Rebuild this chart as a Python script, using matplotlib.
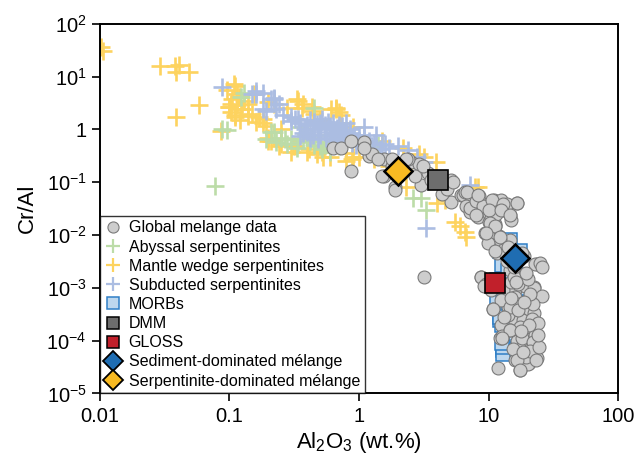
import numpy as np
import matplotlib
matplotlib.use("Agg")
import matplotlib.pyplot as plt
from matplotlib.lines import Line2D
from matplotlib.ticker import FixedLocator, FixedFormatter, NullLocator
from matplotlib import rcParams

rcParams['font.family'] = 'sans-serif'
rcParams['font.sans-serif'] = ['Liberation Sans', 'DejaVu Sans']
rcParams['mathtext.fontset'] = 'custom'
rcParams['mathtext.rm'] = 'Liberation Sans'
rcParams['mathtext.it'] = 'Liberation Sans:italic'

# ── data (Al2O3 wt.%, Cr/Al) ──
abyssal_x = [0.078, 0.088, 0.095, 0.123, 0.13, 0.19, 0.21, 0.23, 0.27, 0.3, 0.34, 0.43,
             0.5, 0.66, 0.4, 0.55, 0.6, 0.75, 0.9, 1.2, 1.4, 0.33, 0.45, 2.6, 3.0, 3.3,
             0.8, 1.0, 0.35, 0.22, 0.25, 0.37, 0.42, 0.5, 0.6, 0.45, 0.28, 0.7, 0.52, 0.62]
abyssal_y = [0.083, 1.0, 0.96, 4.2, 5.0, 0.65, 0.88, 0.57, 0.65, 0.65, 0.57, 0.7,
             0.57, 0.65, 0.75, 0.5, 0.8, 0.55, 0.7, 0.45, 0.5, 0.45, 0.5, 0.05, 0.05, 0.03,
             0.9, 0.6, 1.1, 0.88, 0.7, 0.65, 0.6, 0.48, 0.38, 2.6, 0.52, 0.48, 0.42, 0.55]

wedge_x = [0.0102, 0.0105, 0.029, 0.038, 0.041, 0.039, 0.049, 0.058, 0.039, 0.086, 0.095,
           0.103, 0.103, 0.11, 0.105, 0.123, 0.11, 0.118, 0.12, 0.17, 0.18, 0.34, 0.2, 0.24,
           0.3, 0.43, 0.66, 0.73, 0.12, 0.1, 0.126, 0.18, 0.37, 0.61, 0.7, 0.2, 0.32, 0.41,
           0.52, 0.88, 2.9, 3.2, 3.9, 2.3, 4.0, 5.5, 6.0, 6.6, 6.7, 7.9, 8.3, 4.6, 0.6, 0.8,
           1.0, 1.3, 0.25, 0.15, 0.14, 0.5, 0.9, 1.5, 2.2, 1.7, 2.5, 0.45, 0.28,
           0.108, 0.115, 0.1, 0.11, 0.16, 0.19, 0.22, 0.33, 0.36, 0.44, 0.66, 0.72, 0.21,
           0.25, 0.31, 0.4, 0.47, 0.53, 0.9, 0.8, 0.2, 0.155, 0.13, 0.14, 0.115]
wedge_y = [37, 31, 15.7, 15.7, 16.5, 12, 12, 2.85, 1.7, 0.92, 5.7,
           3.0, 2.1, 6.5, 3.7, 2.4, 1.9, 4.2, 1.5, 1.7, 1.35, 3.4, 0.6, 0.48,
           0.37, 2.7, 2.4, 1.35, 4.2, 2.7, 2.4, 1.55, 3.0, 2.4, 2.1, 0.7, 0.48, 0.42,
           0.37, 0.27, 0.34, 0.3, 0.24, 0.08, 0.04, 0.018, 0.0145, 0.0116, 0.0093, 0.08, 0.08,
           0.047, 0.3, 0.35, 0.3, 0.28, 1.0, 2.0, 3.0, 1.5, 1.1, 0.6, 0.45, 0.2, 0.2, 2.0, 2.5,
           7.1, 4.6, 2.7, 1.7, 1.4, 1.14, 3.0, 3.7, 2.6, 2.2, 2.6, 1.9, 0.6,
           0.52, 0.48, 0.37, 0.34, 0.3, 0.3, 0.25, 3.3, 4.6, 3.4, 1.8, 2.9]

subducted_x = [0.088, 0.15, 0.18, 0.16, 0.21, 0.22, 0.23, 0.18, 0.24, 0.3, 0.32, 0.35, 0.4,
               0.45, 0.5, 0.55, 0.6, 0.65, 0.7, 0.75, 0.8, 0.9, 1.0, 1.1, 1.2, 1.3, 1.5, 1.6,
               2.0, 3.2, 0.4, 0.45, 0.55, 0.6, 0.7, 0.85, 0.5, 0.38, 1.1, 1.35, 0.65, 2.4,
               2.8, 3.3, 7.2, 0.8, 0.95, 0.42, 0.16, 0.22, 0.19, 0.26, 0.3, 0.34, 0.37, 0.42,
               0.47, 0.52, 0.58, 0.63, 0.68, 0.74, 0.78, 0.85, 0.92, 0.35, 0.44, 0.48, 0.56,
               0.62, 0.72, 0.8, 0.88, 1.0, 0.5, 0.6, 0.7, 1.25, 1.45, 1.7]
subducted_y = [6.3, 4.6, 5.0, 4.6, 3.7, 4.0, 2.4, 2.4, 3.0, 1.7, 1.55, 1.3, 1.2,
               1.0, 1.1, 0.9, 1.0, 0.85, 0.9, 0.8, 0.75, 0.7, 0.8, 0.7, 0.6, 0.55, 0.5, 0.52,
               0.48, 0.24, 0.9, 1.4, 1.2, 0.7, 1.2, 1.0, 0.8, 1.0, 1.1, 0.8, 0.6, 0.4,
               0.3, 0.0138, 0.09, 1.3, 0.5, 0.7, 5.3, 3.7, 2.2, 1.9, 1.45, 1.6, 0.85, 1.5,
               1.25, 1.6, 1.4, 1.3, 1.05, 1.15, 0.95, 0.85, 0.8, 0.75, 0.8, 0.65, 0.7,
               0.8, 0.65, 0.6, 0.55, 0.6, 1.3, 1.15, 0.75, 0.45, 0.42, 0.45]

morb_x = [11.7, 17.5, 17, 12.2, 12.8, 14, 13, 13, 12.6, 16, 11.7, 17.5, 13, 12.3, 13,
          14.7, 17.5, 12.3, 15.5, 12.5, 16, 14, 12.8, 13.5]
morb_y = [0.00054, 0.00054, 0.00045, 0.00025, 0.0002, 0.00013, 0.000066, 0.000055, 0.0027,
          0.0027, 0.0014, 0.001, 0.0006, 0.00028, 0.000077, 0.008, 0.005, 0.005, 0.0015,
          0.001, 0.0003, 0.0021, 0.00009, 0.00017]

melange_x = [0.63, 0.72, 0.87, 0.86, 1.1, 1.2, 1.25, 1.55, 1.55, 1.9, 2.5, 2.9, 3.0, 2.7,
             1.8, 2.2, 3.4, 3.6, 5.1, 5.1, 6.1, 6.3, 7.3, 8.5, 11, 12.5, 16.5, 6.7, 7.2, 8.3,
             10, 11.3, 10, 11, 12.9, 14.5, 9.3, 12, 13.4, 14.7, 11.7, 18.6, 23.5, 3.2, 8.7,
             14.7, 16.5, 19, 22, 15.9, 13, 15.9, 10.8, 14.6, 16.5, 21, 22.5, 13.7, 12.6, 19,
             21, 22.5, 21, 23.5, 15.9, 17.5, 20.6, 16.5, 18.5, 7.2, 10.4, 11.2, 9.9, 12.3,
             9.9, 13, 19.2, 14.8, 22.5, 8.8, 19, 14, 12.5, 16, 18.5, 14.6, 19, 21.5, 12.3,
             20.6, 20.2, 14, 12.8, 17, 20, 18, 15, 13.5, 9.5, 10.5, 12.5, 20.5, 17.5, 15.5,
             19.5, 4.4, 4.8, 8, 9, 13.8, 15, 11.5, 1.9, 1.5, 2.4, 6.6,
             1.4, 1.8, 2.3, 1.1, 3.1, 5.3, 6.8, 8.3, 10.7, 13, 16.5, 8, 10, 12.5, 14.6, 10.3,
             11.2, 9.6, 12.3, 11.2, 14, 23, 19, 15.7, 22.4, 10.8, 14.6, 17, 22.4, 21.5, 14.6,
             12.6, 18, 23, 22, 21, 23.4, 16.5, 17.6, 18.5, 24, 25, 26, 17, 20, 22, 24.5,
             11.8, 13.8, 15.8, 19.5, 21, 16.2, 18.8, 24, 20.5, 17.8, 26, 9.2, 15, 13.2]
melange_y = [0.44, 0.45, 0.6, 0.16, 0.57, 0.31, 0.34, 0.27, 0.13, 0.08, 0.24, 0.22, 0.09, 0.13,
             0.2, 0.17, 0.15, 0.11, 0.11, 0.043, 0.058, 0.058, 0.054, 0.054, 0.047, 0.047, 0.041,
             0.035, 0.027, 0.022, 0.025, 0.016, 0.018, 0.014, 0.03, 0.024, 0.011, 0.0094, 0.0072,
             0.008, 0.0046, 0.004, 0.0028, 0.0016, 0.0016, 0.0022, 0.0018, 0.0018, 0.00095,
             0.00092, 0.00092, 0.00068, 0.0004, 0.00041, 0.00034, 0.00034, 0.00025, 0.00016,
             0.00011, 0.00012, 0.00014, 0.0000935, 0.00006, 0.000047, 0.000043, 0.000028,
             0.000037, 0.0001, 0.00008, 0.033, 0.021, 0.0145, 0.01, 0.008, 0.0072, 0.0053,
             0.0016, 0.0013, 0.00104, 0.0016, 0.0011, 0.00044, 0.0002, 0.00023, 0.00025, 0.00016,
             0.00016, 0.00017, 0.00011, 0.000066, 0.000036, 0.00031, 0.00012, 0.0005, 0.0006,
             0.0045, 0.0035, 0.0045, 0.0012, 0.0009, 0.0006, 0.0004, 0.00018, 0.00007, 0.00005,
             0.06, 0.075, 0.045, 0.035, 0.038, 0.019, 0.025, 0.07, 0.13, 0.27, 0.064,
             0.27, 0.27, 0.27, 0.45, 0.2, 0.1, 0.064, 0.058, 0.047, 0.038, 0.041, 0.024, 0.03,
             0.03, 0.024, 0.017, 0.0145, 0.011, 0.009, 0.0049, 0.006, 0.0028, 0.0018, 0.0016,
             0.001, 0.0004, 0.00044, 0.00038, 0.00034, 0.00026, 0.00016, 0.00011, 0.00011,
             0.00013, 0.000094, 0.000063, 0.000043, 0.000043, 0.000028, 0.00006, 0.00022,
             0.0029, 0.0007, 0.0012, 0.0015, 0.0005, 0.000075, 0.00003, 0.0032, 0.0025,
             0.0019, 0.00075, 0.0013, 0.00055, 0.00013, 0.0002, 0.00015, 0.0025, 0.0011,
             0.00065, 0.00028]

dmm = (4.1, 0.108)
gloss = (11.2, 0.00125)
sed_melange = (15.9, 0.0036)
serp_melange = (2.0, 0.166)

c_green, c_yellow, c_blue = '#bcdca8', '#fdd35f', '#abbde2'

fig = plt.figure(figsize=(6.36, 4.58), dpi=100)
ax = fig.add_axes([0.157, 0.141, 0.815, 0.807])

plus_kw = dict(ls='none', marker='+', ms=12.5, mew=1.9)
ax.plot(wedge_x, wedge_y, color=c_yellow, **plus_kw)
ax.plot(abyssal_x, abyssal_y, color=c_green, **plus_kw)
ax.plot(subducted_x, subducted_y, color=c_blue, **plus_kw)
ax.plot(morb_x, morb_y, ls='none', marker='s', ms=10, mfc='#bdd7ee', mec='#2f7fc6', mew=1.1)
ax.plot(melange_x, melange_y, ls='none', marker='o', ms=9.3, mfc='#cdcdcd', mec='#7a7a7a', mew=0.8)
ax.plot(*dmm, ls='none', marker='s', ms=14, mfc='#6d6d6d', mec='black', mew=1.2)
ax.plot(*gloss, ls='none', marker='s', ms=14, mfc='#c1202b', mec='black', mew=1.2)
ax.plot(*sed_melange, ls='none', marker='D', ms=14, mfc='#1f6db2', mec='black', mew=1.8)
ax.plot(*serp_melange, ls='none', marker='D', ms=14, mfc='#f8ba22', mec='black', mew=1.8)

ax.set_xscale('log')
ax.set_yscale('log')
ax.set_xlim(0.01, 100)
ax.set_ylim(1e-5, 1e2)

xt = [0.01, 0.1, 1, 10, 100]
ax.xaxis.set_major_locator(FixedLocator(xt))
ax.xaxis.set_major_formatter(FixedFormatter(['0.01', '0.1', '1', '10', '100']))
yt = [1e-5, 1e-4, 1e-3, 1e-2, 1e-1, 1, 10, 100]
ax.yaxis.set_major_locator(FixedLocator(yt))
ax.yaxis.set_major_formatter(FixedFormatter([r'$10^{-5}$', r'$10^{-4}$', r'$10^{-3}$',
                                             r'$10^{-2}$', r'$10^{-1}$', '1',
                                             r'$10^{1}$', r'$10^{2}$']))
ax.xaxis.set_minor_locator(NullLocator())
ax.yaxis.set_minor_locator(NullLocator())
ax.tick_params(labelsize=14.5, length=5.5, width=1.2, direction='out', pad=4)
for s in ax.spines.values():
    s.set_linewidth(1.4)

ax.set_xlabel(r'Al$_2$O$_3$ (wt.%)', fontsize=16, labelpad=3)
ax.set_ylabel('Cr/Al', fontsize=16, labelpad=6)

handles = [
    Line2D([], [], ls='none', marker='o', ms=8, mfc='#cdcdcd', mec='#7a7a7a', mew=0.8),
    Line2D([], [], ls='none', marker='+', ms=10, mew=1.6, color=c_green),
    Line2D([], [], ls='none', marker='+', ms=10, mew=1.6, color=c_yellow),
    Line2D([], [], ls='none', marker='+', ms=10, mew=1.6, color=c_blue),
    Line2D([], [], ls='none', marker='s', ms=8, mfc='#bdd7ee', mec='#2f7fc6', mew=1.1),
    Line2D([], [], ls='none', marker='s', ms=8, mfc='#6d6d6d', mec='black', mew=1.1),
    Line2D([], [], ls='none', marker='s', ms=8, mfc='#c1202b', mec='black', mew=1.1),
    Line2D([], [], ls='none', marker='D', ms=10.5, mfc='#1f6db2', mec='black', mew=1.3),
    Line2D([], [], ls='none', marker='D', ms=10.5, mfc='#f8ba22', mec='black', mew=1.3),
]
labels = ['Global melange data', 'Abyssal serpentinites', 'Mantle wedge serpentinites',
          'Subducted serpentinites', 'MORBs', 'DMM', 'GLOSS',
          'Sediment-dominated mélange', 'Serpentinite-dominated mélange']
leg = ax.legend(handles, labels, loc='lower left', bbox_to_anchor=(0, 0), borderaxespad=0,
                fontsize=11.5, frameon=True, fancybox=False, handlelength=1.0,
                handletextpad=0.5, labelspacing=0.26, borderpad=0.3)
leg.get_frame().set_edgecolor('black')
leg.get_frame().set_linewidth(1.0)

fig.savefig('out.png', dpi=100)
